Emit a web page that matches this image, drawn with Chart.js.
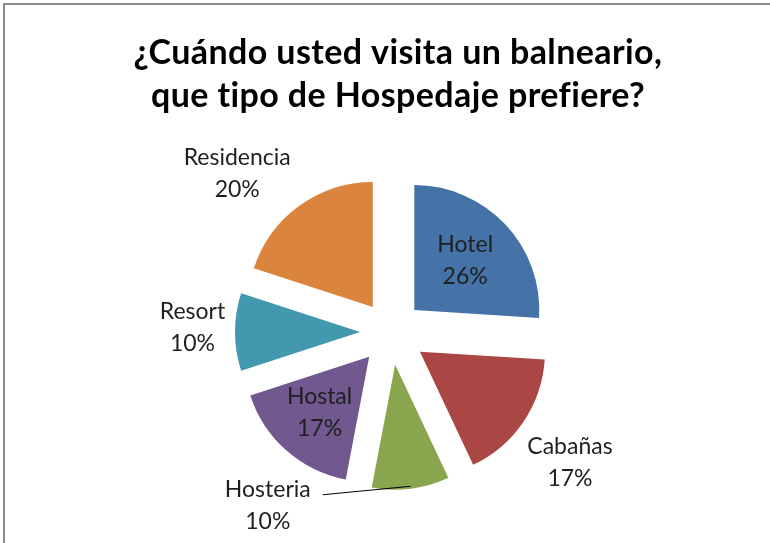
<!DOCTYPE html>
<html>
<head>
<meta charset="utf-8">
<script src="https://cdn.jsdelivr.net/npm/chart.js@4/dist/chart.umd.min.js"></script>
<style>
  html, body { margin: 0; padding: 0; background: #fff; }
  #wrap { position: relative; width: 770px; height: 543px; }
</style>
</head>
<body>
<div id="wrap"><canvas id="pieChart" width="770" height="543"></canvas></div>
<script>
// chart data
const titleLines = ['¿Cuándo usted visita un balneario,', 'que tipo de Hospedaje prefiere?'];
const categories = ['Hotel', 'Cabañas', 'Hosteria', 'Hostal', 'Resort', 'Residencia'];
const shares = [26, 17, 10, 17, 10, 20];
const sliceColors = ['#4572A7', '#AA4643', '#89A54E', '#71588F', '#4198AF', '#DB843D'];

// how far each slice is pulled out of the pie (px)
const explode = [32, 35, 33, 33, 31, 31];
// label placement: distance from slice center as a fraction of radius, plus a nudge
const labelDist = [0.58, 1.48, 1.0, 0.6, 1.34, 1.45];
const labelNudge = [[-2, 0], [-3, 7], [-143, 17], [0, 0], [0, -4], [-29, 13]];
const leaderLines = [false, false, true, false, false, false];

const FONT = 'Lato, "Open Sans", sans-serif';

const framePlugin = {
  id: 'frame',
  beforeDraw(chart) {
    const ctx = chart.ctx;
    ctx.save();
    ctx.fillStyle = '#ffffff';
    ctx.fillRect(0, 0, chart.width, chart.height);
    ctx.strokeStyle = '#8c8c8c';
    ctx.lineWidth = 2;
    ctx.beginPath();
    ctx.moveTo(4, chart.height);
    ctx.lineTo(4, 4);
    ctx.lineTo(chart.width, 4);
    ctx.stroke();

    ctx.fillStyle = '#000';
    ctx.font = 'bold 34px ' + FONT;
    ctx.letterSpacing = '0.4px'; // also stops the "ti" ligature
    ctx.textAlign = 'center';
    ctx.textBaseline = 'alphabetic';
    titleLines.forEach((line, i) => ctx.fillText(line, 398, 64 + i * 43));
    ctx.restore();
  }
};

// pull slices out along their bisector, like an exploded Excel pie
const explodePlugin = {
  id: 'explode',
  afterDatasetsUpdate(chart) {
    const meta = chart.getDatasetMeta(0);
    meta.data.forEach((arc, i) => {
      const mid = (arc.startAngle + arc.endAngle) / 2;
      arc.x += Math.cos(mid) * explode[i];
      arc.y += Math.sin(mid) * explode[i];
    });
  }
};

const labelPlugin = {
  id: 'sliceLabels',
  afterDatasetsDraw(chart) {
    const ctx = chart.ctx;
    const meta = chart.getDatasetMeta(0);
    const data = chart.data.datasets[0].data;
    ctx.save();
    ctx.font = '23px ' + FONT;
    ctx.fillStyle = '#1f1f1f';
    ctx.textAlign = 'center';
    ctx.textBaseline = 'middle';
    meta.data.forEach((arc, i) => {
      const mid = (arc.startAngle + arc.endAngle) / 2;
      const r = arc.outerRadius;
      const lx = arc.x + Math.cos(mid) * r * labelDist[i] + labelNudge[i][0];
      const ly = arc.y + Math.sin(mid) * r * labelDist[i] + labelNudge[i][1];
      if (leaderLines[i]) {
        ctx.strokeStyle = '#000';
        ctx.lineWidth = 1;
        ctx.beginPath();
        ctx.moveTo(arc.x + Math.cos(mid) * r * 0.98, arc.y + Math.sin(mid) * r * 0.98);
        ctx.lineTo(lx + 55, ly - 11);
        ctx.stroke();
      }
      ctx.fillText(categories[i], lx, ly - 16);
      ctx.fillText(data[i] + '%', lx, ly + 16);
    });
    ctx.restore();
  }
};

new Chart(document.getElementById('pieChart'), {
  type: 'pie',
  data: {
    labels: categories,
    datasets: [{
      data: shares,
      backgroundColor: sliceColors,
      borderWidth: 0
    }]
  },
  options: {
    responsive: false,
    animation: false,
    radius: 125,
    layout: { padding: { top: 130, bottom: 9, left: 12, right: 0 } },
    plugins: {
      legend: { display: false },
      title: { display: false },
      tooltip: { enabled: false }
    }
  },
  plugins: [framePlugin, explodePlugin, labelPlugin]
});
</script>
</body>
</html>
